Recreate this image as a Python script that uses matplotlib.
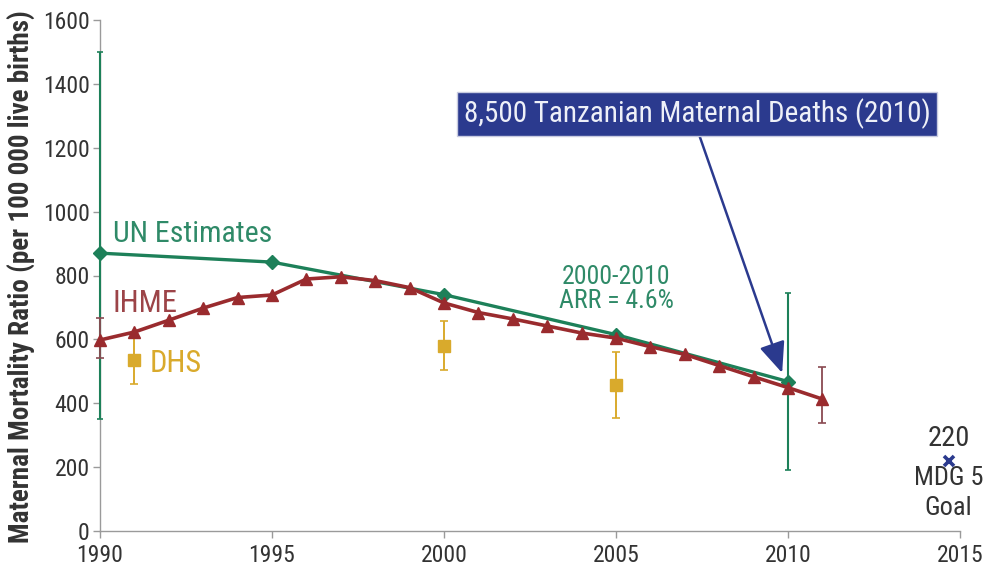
import matplotlib
matplotlib.use("Agg")
import matplotlib.pyplot as plt

plt.rcParams["font.family"] = ["Roboto Condensed", "DejaVu Sans"]

# UN estimates with uncertainty intervals (1990 and 2010)
un_years = [1990, 1995, 2000, 2005, 2010]
un_mmr = [870, 842, 740, 615, 468]
un_err_years = [1990, 2010]
un_err_mmr = [870, 468]
un_err_low = [350, 190]
un_err_high = [1500, 745]

# IHME annual estimates
ihme_years = list(range(1990, 2012))
ihme_mmr = [598, 623, 660, 698, 731, 739, 789, 796, 784, 762,
            714, 684, 664, 642, 620, 604, 577, 553, 518, 483, 449, 413]
ihme_err_years = [1990, 2011]
ihme_err_mmr = [598, 413]
ihme_err_low = [542, 338]
ihme_err_high = [667, 514]

# DHS survey estimates
dhs_years = [1991, 2000, 2005]
dhs_mmr = [535, 578, 456]
dhs_low = [460, 505, 354]
dhs_high = [612, 657, 560]

# MDG 5 target
mdg_year = 2014.67
mdg_value = 220

x_ticks = [1990, 1995, 2000, 2005, 2010, 2015]
y_ticks = [0, 200, 400, 600, 800, 1000, 1200, 1400, 1600]

GREEN = "#1d8059"
GREEN_TXT = "#2f8a68"
RED = "#9a2b2e"
RED_TXT = "#9c4448"
GOLD = "#d9aa2c"
NAVY = "#2b3a8e"
AXIS = "#9a9a9a"
TXT = "#333333"


def err(mid, low, high):
    return [[m - lo for m, lo in zip(mid, low)], [hi - m for m, hi in zip(mid, high)]]


fig = plt.figure(figsize=(9.85, 5.67), dpi=100)
ax = fig.add_axes([100 / 985, 1 - 531 / 567, 860 / 985, 511 / 567])

# error bars
for eb in (
    ax.errorbar(un_err_years, un_err_mmr, yerr=err(un_err_mmr, un_err_low, un_err_high),
                fmt="none", ecolor=GREEN, elinewidth=1.5, capsize=2.5, capthick=1.2, zorder=3),
    ax.errorbar(ihme_err_years, ihme_err_mmr, yerr=err(ihme_err_mmr, ihme_err_low, ihme_err_high),
                fmt="none", ecolor="#8a4a52", elinewidth=1.3, capsize=3, capthick=1.2, zorder=3),
):
    for artist in eb.lines[1] + eb.lines[2]:
        artist.set_clip_on(False)

ax.errorbar(dhs_years, dhs_mmr, yerr=err(dhs_mmr, dhs_low, dhs_high),
            fmt="s", color=GOLD, ecolor=GOLD, elinewidth=1.4, capsize=3, capthick=1.2,
            markersize=9, zorder=3)

# series lines
ax.plot(un_years, un_mmr, color=GREEN, lw=2.4, marker="D", markersize=7, zorder=4, clip_on=False)
ax.plot(ihme_years, ihme_mmr, color=RED, lw=2.6, marker="^", markersize=9, zorder=5, clip_on=False)

# MDG target
ax.plot([mdg_year], [mdg_value], marker="x", color=NAVY, markersize=6.5, mew=2.6, zorder=6)
ax.text(mdg_year, 266, "220", ha="center", va="baseline", fontsize=20.5, color=TXT)
ax.text(mdg_year, 144, "MDG 5", ha="center", va="baseline", fontsize=19, color=TXT)
ax.text(mdg_year, 50, "Goal", ha="center", va="baseline", fontsize=19, color=TXT)

# series labels
ax.text(1990.38, 905, "UN Estimates", fontsize=21.5, color=GREEN_TXT, va="baseline")
ax.text(1990.35, 686, "IHME", fontsize=22, color=RED_TXT, va="baseline")
ax.text(1991.45, 498, "DHS", fontsize=22, color=GOLD, va="baseline")
ax.text(2005.0, 834, "2000-2010\nARR = 4.6%", fontsize=18.5, color=GREEN_TXT,
        ha="center", va="top", linespacing=1.0)

# callout box with arrow
ax.annotate("8,500 Tanzanian Maternal Deaths (2010)",
            xy=(2009.83, 495), xytext=(2007.36, 1306), textcoords="data",
            ha="center", va="center", fontsize=21, color="#eef0f8",
            bbox=dict(boxstyle="square,pad=0.22", fc=NAVY, ec="#c8cbe0", lw=1),
            arrowprops=dict(arrowstyle="-|>,head_length=0.9,head_width=0.38",
                            color=NAVY, lw=1.8, shrinkA=0, shrinkB=0,
                            relpos=(0.5, 0.0)),
            zorder=7)

# axes styling
ax.set_xlim(1990, 2015)
ax.set_ylim(0, 1600)
ax.set_xticks(x_ticks)
ax.set_yticks(y_ticks)
for s in ("top", "right"):
    ax.spines[s].set_visible(False)
for s in ("left", "bottom"):
    ax.spines[s].set_color(AXIS)
    ax.spines[s].set_linewidth(1.0)
    ax.spines[s].set_zorder(1)
ax.tick_params(axis="both", colors=AXIS, labelcolor=TXT, labelsize=17, length=5, width=1)
ax.tick_params(axis="x", pad=4)
ax.tick_params(axis="y", pad=2.5)

fig.text(22 / 985, 1 - 277 / 567, "Maternal Mortality Ratio (per 100 000 live births)",
         rotation=90, ha="center", va="center", fontsize=19.5, fontweight="bold", color=TXT)

fig.savefig("out.png", dpi=100)
